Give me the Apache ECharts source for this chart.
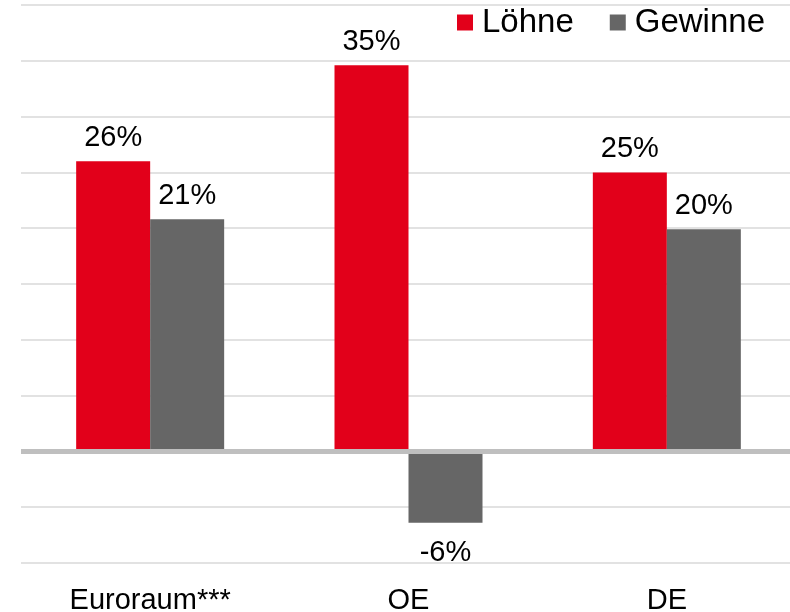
<!DOCTYPE html>
<html>
<head>
<meta charset="utf-8">
<script src="https://cdn.jsdelivr.net/npm/echarts@6/dist/echarts.min.js"></script>
<style>
  html, body { margin: 0; padding: 0; background: #fff; }
  #chart { width: 790px; height: 612px; }
</style>
</head>
<body>
<div id="chart"></div>
<script>
var categories = ["Euroraum***", "OE", "DE"];
var loehne = [26, 34.6, 25];
var gewinne = [20.8, -6.4, 19.9];

var chart = echarts.init(document.getElementById("chart"));

function barData(values) {
  return values.map(function (v) {
    if (v < 0) {
      return { value: v, label: { position: "bottom", distance: 16 } };
    }
    return v;
  });
}

var labelStyle = {
  show: true,
  position: "top",
  distance: 9,
  color: "#000",
  fontFamily: "Liberation Sans",
  fontSize: 29,
  formatter: function (p) {
    return Math.round(p.value) + "%";
  },
};

chart.setOption({
  animation: false,
  legend: {
    data: ["Löhne", "Gewinne"],
    left: 457,
    top: 6,
    padding: 0,
    icon: "rect",
    itemWidth: 16,
    itemHeight: 16,
    itemGap: 36,
    textStyle: {
      color: "#000",
      fontFamily: "Liberation Sans",
      fontSize: 33,
      padding: [0, 0, 0, 4],
    },
  },
  grid: {
    left: 21,
    right: -6,
    top: 5,
    bottom: 49,
    containLabel: false,
    outerBoundsMode: "none",
  },
  xAxis: {
    type: "category",
    data: categories,
    axisLine: { show: false, onZero: false },
    axisTick: { show: false },
    axisLabel: {
      interval: 0,
      margin: 23,
      color: "#000",
      fontFamily: "Liberation Sans",
      fontSize: 29,
    },
  },
  yAxis: {
    type: "value",
    min: -10,
    max: 40,
    interval: 5,
    axisLabel: { show: false },
    axisLine: { show: false },
    axisTick: { show: false },
    splitLine: {
      lineStyle: { color: "#d9d9d9", width: 1.5 },
    },
  },
  series: [
    {
      name: "Löhne",
      type: "bar",
      data: barData(loehne),
      barWidth: 74,
      barGap: "0%",
      itemStyle: { color: "#e2001a" },
      label: labelStyle,
    },
    {
      name: "Gewinne",
      type: "bar",
      data: barData(gewinne),
      barWidth: 74,
      barGap: "0%",
      itemStyle: { color: "#666666" },
      label: labelStyle,
      // zero line over the bars
      markLine: {
        z: 10,
        silent: true,
        symbol: "none",
        label: { show: false },
        lineStyle: { color: "#bfbfbf", width: 5, type: "solid" },
        data: [{ yAxis: 0 }],
      },
    },
  ],
});
</script>
</body>
</html>
